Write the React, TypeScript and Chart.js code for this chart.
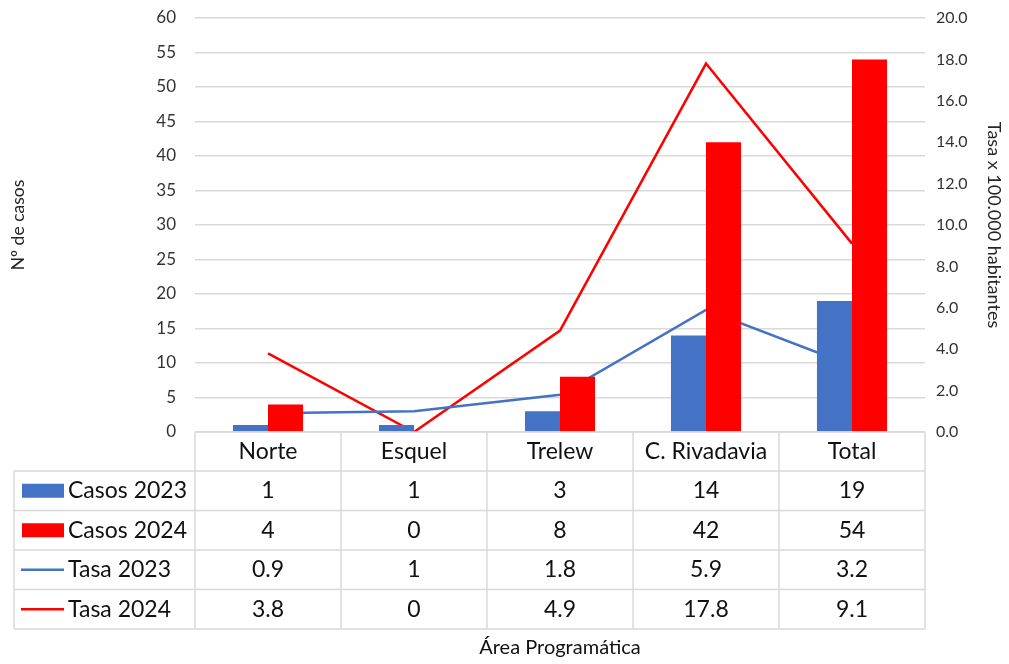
import React, { useEffect, useRef } from "react";
import { Chart, registerables } from "chart.js";

Chart.register(...registerables);

const categories = ["Norte", "Esquel", "Trelew", "C. Rivadavia", "Total"];
const casos2023 = [1, 1, 3, 14, 19];
const casos2024 = [4, 0, 8, 42, 54];
const tasa2023 = [0.9, 1, 1.8, 5.9, 3.2];
const tasa2024 = [3.8, 0, 4.9, 17.8, 9.1];
const tasaLabels2023 = ["0.9", "1", "1.8", "5.9", "3.2"];
const tasaLabels2024 = ["3.8", "0", "4.9", "17.8", "9.1"];

const BLUE = "#4472C4";
const RED = "#FF0000";
const FONT = "Lato, 'Open Sans', sans-serif";

const tablePlugin = {
  id: "dataTable",
  afterDraw(chart: any) {
    const ctx = chart.ctx;
    const xs = chart.scales.x;
    const area = chart.chartArea;
    const n = categories.length;
    const colW = (area.right - area.left) / n;
    const headerTop = area.bottom;
    const headerBottom = headerTop + 39;
    const rowH = 39.5;
    const legendLeft = 14;
    const rows = [
      { label: "Casos 2023", type: "bar", color: BLUE, vals: casos2023.map(String) },
      { label: "Casos 2024", type: "bar", color: RED, vals: casos2024.map(String) },
      { label: "Tasa 2023", type: "line", color: BLUE, vals: tasaLabels2023 },
      { label: "Tasa 2024", type: "line", color: RED, vals: tasaLabels2024 },
    ];
    const tableBottom = headerBottom + rowH * rows.length;
    ctx.save();
    ctx.strokeStyle = "#d9d9d9";
    ctx.lineWidth = 1.5;
    ctx.beginPath();
    ctx.moveTo(area.left, headerTop);
    ctx.lineTo(area.right, headerTop);
    ctx.stroke();
    for (let r = 0; r <= rows.length; r++) {
      const y = headerBottom + r * rowH;
      ctx.beginPath();
      ctx.moveTo(legendLeft, y);
      ctx.lineTo(area.right, y);
      ctx.stroke();
    }
    for (let c = 0; c <= n; c++) {
      const x = area.left + c * colW;
      ctx.beginPath();
      ctx.moveTo(x, headerTop);
      ctx.lineTo(x, tableBottom);
      ctx.stroke();
    }
    ctx.beginPath();
    ctx.moveTo(legendLeft, headerBottom);
    ctx.lineTo(legendLeft, tableBottom);
    ctx.stroke();

    ctx.fillStyle = "#111";
    ctx.font = `23px ${FONT}`;
    ctx.textAlign = "center";
    ctx.textBaseline = "middle";
    categories.forEach((c, i) => {
      const cx = xs.getPixelForValue(i);
      ctx.fillText(c, cx, (headerTop + headerBottom) / 2);
    });
    rows.forEach((row, r) => {
      const cy = headerBottom + r * rowH + rowH / 2;
      row.vals.forEach((v, i) => {
        const cx = xs.getPixelForValue(i);
        ctx.fillStyle = "#111";
        ctx.textAlign = "center";
        ctx.fillText(v, cx, cy);
      });
      if (row.type === "bar") {
        ctx.fillStyle = row.color;
        ctx.fillRect(22, cy - 7, 42, 14);
      } else {
        ctx.strokeStyle = row.color;
        ctx.lineWidth = 2.5;
        ctx.beginPath();
        ctx.moveTo(21, cy);
        ctx.lineTo(64, cy);
        ctx.stroke();
      }
      ctx.fillStyle = "#111";
      ctx.textAlign = "left";
      ctx.fillText(row.label, 68, cy);
    });
    ctx.textAlign = "center";
    ctx.font = `20px ${FONT}`;
    ctx.fillText("Área Programática", (area.left + area.right) / 2, 648);
    ctx.restore();
  },
};

export default function App() {
  const ref = useRef<HTMLCanvasElement>(null);
  useEffect(() => {
    document.body.style.margin = "0";
    const chart = new Chart(ref.current as HTMLCanvasElement, {
      type: "bar",
      data: {
        labels: categories,
        datasets: [
          { type: "bar", label: "Casos 2023", data: casos2023, backgroundColor: BLUE, yAxisID: "y", order: 1 },
          { type: "bar", label: "Casos 2024", data: casos2024, backgroundColor: RED, yAxisID: "y", order: 1 },
          { type: "line", label: "Tasa 2023", data: tasa2023, borderColor: BLUE, borderWidth: 2.5, pointRadius: 0, tension: 0, yAxisID: "y1", order: 2 },
          { type: "line", label: "Tasa 2024", data: tasa2024, borderColor: RED, borderWidth: 2.5, pointRadius: 0, tension: 0, yAxisID: "y1", order: 2 },
        ] as any,
      },
      options: {
        animation: false,
        responsive: false,
        layout: { padding: { top: 18, bottom: 232, left: 0, right: 0 } },
        datasets: { bar: { categoryPercentage: 0.48, barPercentage: 1 } } as any,
        plugins: { legend: { display: false }, tooltip: { enabled: false } },
        scales: {
          x: { display: false, offset: true, grid: { offset: true } },
          y: {
            position: "left",
            min: 0,
            max: 60,
            ticks: { stepSize: 5, color: "#333", font: { family: FONT, size: 17 }, padding: 3 },
            grid: { color: "#d9d9d9", lineWidth: 1.5, drawTicks: true, tickLength: 16, tickColor: "rgba(0,0,0,0)" },
            border: { display: false },
            title: { display: true, text: "Nº de casos", color: "#262626", font: { family: FONT, size: 17.5 }, padding: { top: 8, bottom: 4 } },
            afterFit(scale: any) { scale.width = 195; },
          },
          y1: {
            position: "right",
            min: 0,
            max: 20,
            ticks: { stepSize: 2, color: "#333", font: { family: FONT, size: 16 }, padding: 3, callback: (v: any) => Number(v).toFixed(1) },
            grid: { display: false },
            border: { display: false },
            title: { display: true, text: "Tasa x 100.000 habitantes", color: "#262626", font: { family: FONT, size: 18 }, padding: { top: 4, bottom: 3 } },
            afterFit(scale: any) { scale.width = 84; },
          },
        },
      } as any,
      plugins: [tablePlugin],
    });
    return () => chart.destroy();
  }, []);
  return (
    <div style={{ width: 1009, height: 664 }}>
      <canvas ref={ref} width={1009} height={664} />
    </div>
  );
}
